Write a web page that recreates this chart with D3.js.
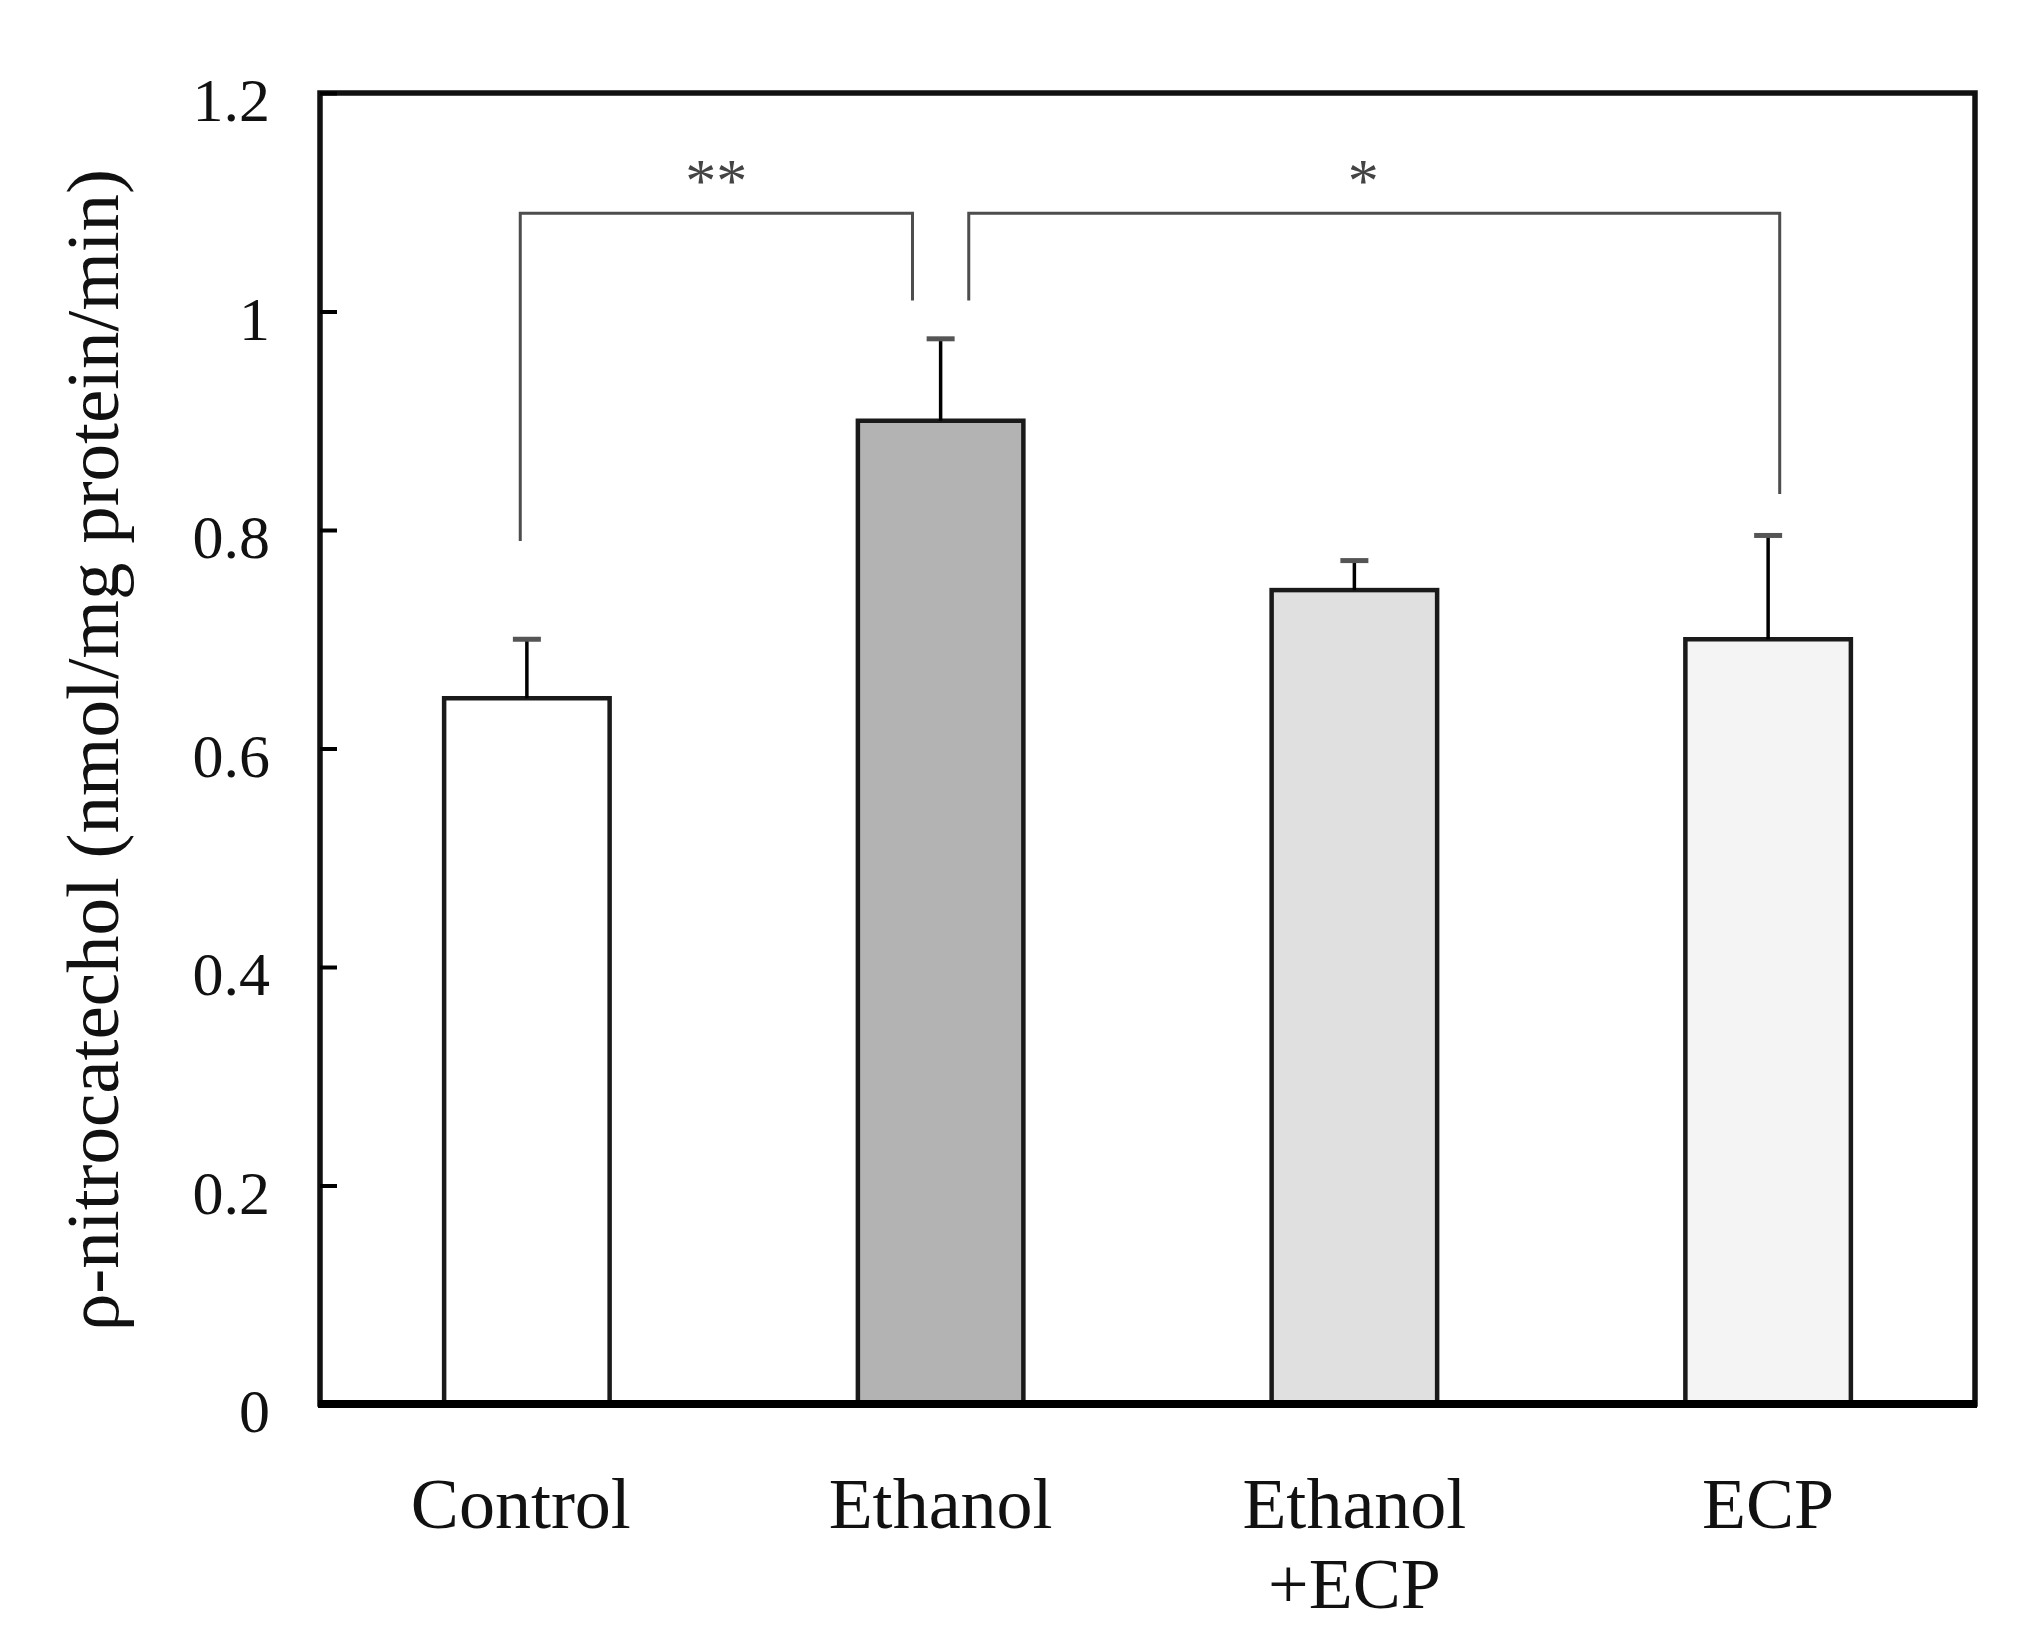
<!DOCTYPE html>
<html>
<head>
<meta charset="utf-8">
<script src="https://cdn.jsdelivr.net/npm/d3@7"></script>
<style>
  body { margin: 0; background: #fff; }
  text { font-family: "Liberation Serif", "Times New Roman", serif; }
</style>
</head>
<body>
<svg id="chart" width="2020" height="1649"></svg>
<script>
// data
const groups = ["Control", "Ethanol", "Ethanol\n+ECP", "ECP"];
const means = [0.646, 0.90, 0.745, 0.70];
const errors = [0.054, 0.075, 0.027, 0.095];
const fills = ["#ffffff", "#b3b3b3", "#e0e0e0", "#f4f4f4"];
const yTicks = [0, 0.2, 0.4, 0.6, 0.8, 1, 1.2];
const yLabel = "\u03c1-nitrocatechol (nmol/mg protein/min)";

// significance brackets: from/to group index, bar level, leg ends, label
const brackets = [
  { from: 0, to: 1, level: 1.09, fromEnd: 0.79, toEnd: 1.01, label: "**" },
  { from: 1, to: 3, level: 1.09, fromEnd: 1.01, toEnd: 0.833, label: "*" }
];

const svg = d3.select("#chart");
const margin = { top: 93, right: 45, bottom: 245, left: 320 };
const width = +svg.attr("width");
const height = +svg.attr("height");
const plotW = width - margin.left - margin.right;
const plotH = height - margin.top - margin.bottom;

const g = svg.append("g")
    .attr("transform", `translate(${margin.left},${margin.top})`);

const x = d3.scaleBand()
    .domain(groups)
    .range([0, plotW])
    .paddingInner(0.6)
    .paddingOuter(0.3);

const y = d3.scaleLinear()
    .domain([0, 1.2])
    .range([plotH, 0]);

// frame
g.append("rect")
    .attr("x", 0).attr("y", 0)
    .attr("width", plotW).attr("height", plotH)
    .attr("fill", "none")
    .attr("stroke", "#111")
    .attr("stroke-width", 5.5);

// bars
g.selectAll("rect.bar").data(groups)
    .join("rect")
    .attr("class", "bar")
    .attr("x", d => x(d))
    .attr("y", (d, i) => y(means[i]))
    .attr("width", x.bandwidth())
    .attr("height", (d, i) => plotH - y(means[i]))
    .attr("fill", (d, i) => fills[i])
    .attr("stroke", "#1a1a1a")
    .attr("stroke-width", 4.5);

// error bars (upper only)
const capW = 28;
groups.forEach((d, i) => {
    const cx = x(d) + x.bandwidth() / 2;
    g.append("line")
        .attr("x1", cx).attr("x2", cx)
        .attr("y1", y(means[i]))
        .attr("y2", y(means[i] + errors[i]))
        .attr("stroke", "#000")
        .attr("stroke-width", 3.5);
    g.append("line")
        .attr("x1", cx - capW / 2).attr("x2", cx + capW / 2)
        .attr("y1", y(means[i] + errors[i]))
        .attr("y2", y(means[i] + errors[i]))
        .attr("stroke", "#555")
        .attr("stroke-width", 5);
});

// brackets
const bw = x.bandwidth();
const center = i => x(groups[i]) + bw / 2;
brackets.forEach((b, k) => {
    const x0 = center(b.from) + (k === 0 ? -0.04 * bw : 0.17 * bw);
    const x1 = center(b.to) + (k === 0 ? -0.17 * bw : 0.07 * bw);
    g.append("path")
        .attr("d", `M${x0},${y(b.fromEnd)}V${y(b.level)}H${x1}V${y(b.toEnd)}`)
        .attr("fill", "none")
        .attr("stroke", "#4d4d4d")
        .attr("stroke-width", 3);
    g.append("text")
        .text(b.label)
        .attr("x", (x0 + x1) / 2 + (k === 0 ? 0 : -11))
        .attr("y", y(b.level) - 12)
        .attr("text-anchor", "middle")
        .style("font-size", "62px")
        .style("fill", "#444");
});

// bottom axis line
g.append("line")
    .attr("x1", -2).attr("x2", plotW + 2)
    .attr("y1", plotH).attr("y2", plotH)
    .attr("stroke", "#000")
    .attr("stroke-width", 8);

// y axis
const yAxis = g.append("g")
    .call(d3.axisLeft(y).tickValues(yTicks).tickSize(-17).tickPadding(50)
        .tickFormat(d => String(d)));
yAxis.select(".domain").remove();
yAxis.selectAll(".tick line")
    .attr("stroke", "#000")
    .attr("stroke-width", 4);
yAxis.selectAll(".tick text")
    .attr("dy", "0.45em")
    .style("font-family", "'Liberation Serif', 'Times New Roman', serif")
    .style("font-size", "62px")
    .style("fill", "#111");

// category labels
groups.forEach((d, i) => {
    const lines = d.split("\n");
    const cx = x(d) + bw / 2 + (i === 0 ? -6 : 0);
    const t = g.append("text")
        .attr("x", cx)
        .attr("y", plotH + 124)
        .attr("text-anchor", "middle")
        .style("font-size", "72px")
        .style("fill", "#111");
    lines.forEach((ln, j) => {
        t.append("tspan")
            .attr("x", cx)
            .attr("dy", j === 0 ? 0 : 80)
            .text(ln);
    });
});

// y axis title
svg.append("text")
    .text(yLabel)
    .attr("transform", `translate(118,${margin.top + 657}) rotate(-90)`)
    .attr("text-anchor", "middle")
    .style("font-size", "75px")
    .style("fill", "#111");
</script>
</body>
</html>
